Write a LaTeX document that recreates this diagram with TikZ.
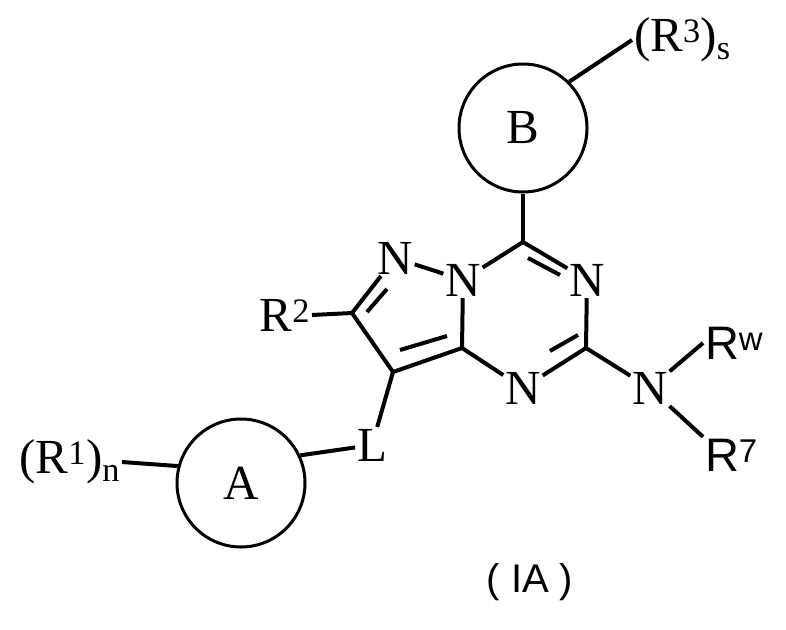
\documentclass[tikz,border=0pt]{standalone}
\usepackage{fontspec}
\setmainfont{Liberation Serif}
\newfontfamily\arial{Liberation Sans}
\begin{document}
\begin{tikzpicture}[x=1pt,y=-1pt,line width=4pt,
  lab/.style={font=\fontsize{49}{49}\selectfont,inner sep=0pt},
  slab/.style={font=\arial\fontsize{47}{47}\selectfont,inner sep=0pt},
  ring/.style={circle,draw,line width=3pt,minimum size=128pt,inner sep=0pt,font=\fontsize{49}{49}\selectfont}]
\useasboundingbox (0,0) rectangle (786,629);
\node[ring] (B) at (523,128) {B};
\node[ring] (A) at (241,483) {A};
\node[lab] (N1) at (395,258) {N};
\node[lab] (N2) at (463,280) {N};
\node[lab] (N3) at (587,280) {N};
\node[lab] (N4) at (523,388) {N};
\node[lab] (N5) at (650,388) {N};
\node[lab] (L) at (372,445) {L};
\node[lab,anchor=east] (R2) at (312,315) {R\textsuperscript{2}};
\node[lab,anchor=west] (R3) at (632,40) {(R\textsuperscript{3})\textsubscript{s}};
\node[lab,anchor=east] (R1) at (122,462) {(R\textsuperscript{1})\textsubscript{n}};
\node[slab,anchor=west] (Rw) at (703,343) {R\textsuperscript{w}};
\node[slab,anchor=west] (R7) at (703,455) {R\textsuperscript{7}};
\node[font=\arial\fontsize{40}{40}\selectfont] (IA) at (530,582) {( IA )};
\coordinate (Ct) at (523,242);
\coordinate (Cr) at (586,348);
\coordinate (Cb) at (462,348);
\coordinate (C2) at (352,313);
\coordinate (C3) at (393,372);
% bonds
\draw (B.south) -- (Ct);
\draw (B.45) -- (R3.west);
\draw (N2) -- (Ct);
\draw (Ct) -- (N3);
\draw (N3) -- (Cr);
\draw (Cr) -- (N4);
\draw (N4) -- (Cb);
\draw (Cb) -- (N2);
\draw (N1) -- (N2);
\draw (N1) -- (C2);
\draw (C2) -- (C3);
\draw (C3) -- (Cb);
\draw (Cr) -- (N5);
\draw (N5) -- (Rw.west);
\draw (N5) -- (R7.north west);
\draw (C2) -- (R2.east);
\draw (C3) -- (L);
\draw (L) -- (A.25);
\draw (A.165) -- (R1.east);
% inner double bonds
\draw (528,258) -- (560,275);
\draw (578,335) -- (550,351);
\draw (400,350) -- (447,336);
\draw (387,289) -- (367,312);
\end{tikzpicture}
\end{document}
